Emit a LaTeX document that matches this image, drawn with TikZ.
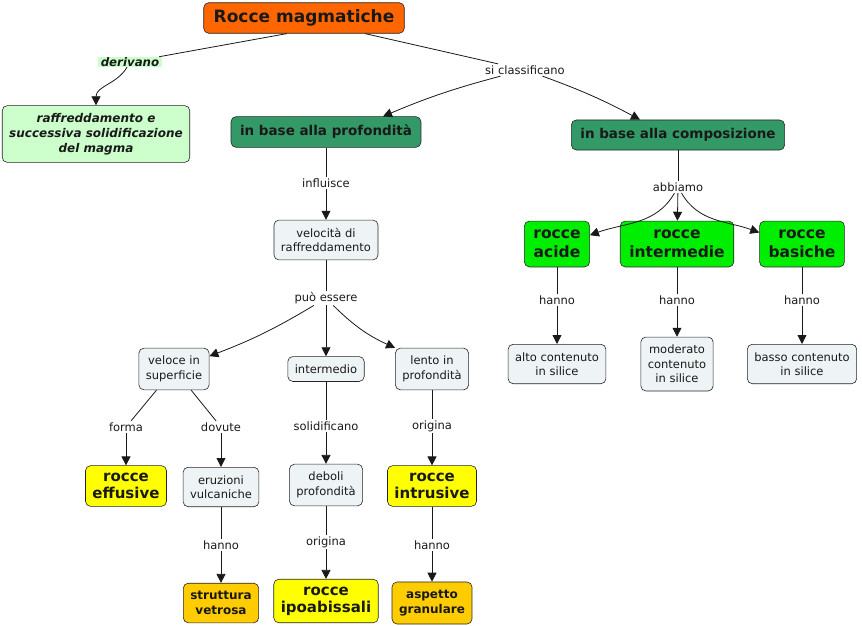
\documentclass[tikz,border=0pt]{standalone}
\usepackage{fontspec}
\setmainfont{DejaVu Sans}
\usepackage{tikz}
\usetikzlibrary{arrows.meta,positioning}

\definecolor{arancione}{RGB}{255,102,0}
\definecolor{verdechiaro}{RGB}{204,255,204}
\definecolor{verdescuro}{RGB}{51,153,102}
\definecolor{grigino}{RGB}{238,244,245}
\definecolor{giallo}{RGB}{255,255,0}
\definecolor{ocra}{RGB}{255,204,0}
\definecolor{verdeacceso}{RGB}{0,238,0}

\tikzset{
  concept/.style={draw=black!85, line width=0.6pt, rounded corners=5pt, align=center,
    inner xsep=7pt, inner ysep=8pt, fill=grigino, text=black!90,
    font=\fontsize{11.5}{14.5}\selectfont},
  titlebox/.style={concept, fill=arancione, inner xsep=10pt, inner ysep=7pt,
    font=\fontsize{17}{20}\bfseries},
  origine/.style={concept, fill=verdechiaro, inner ysep=7.5pt, font=\fontsize{12}{15}\bfseries\itshape},
  criterio/.style={concept, fill=verdescuro, inner xsep=9pt, inner ysep=8.5pt,
    font=\fontsize{13.5}{16}\bfseries},
  roccia/.style={concept, fill=giallo, inner ysep=7.5pt, font=\fontsize{15}{17}\bfseries},
  tipo/.style={concept, fill=verdeacceso, inner xsep=9pt, inner ysep=9pt, font=\fontsize{15.5}{19}\bfseries},
  aspetto/.style={concept, fill=ocra, inner ysep=8pt, font=\fontsize{12}{15}\bfseries},
  link/.style={inner sep=1.5pt, text=black!90, font=\fontsize{11.5}{14}\selectfont},
  linkbold/.style={link, fill=verdechiaro, inner xsep=3pt, inner ysep=0.5pt,
    font=\fontsize{11.8}{14}\bfseries\itshape},
  conn/.style={line width=0.8pt, black!90},
  arr/.style={-{Triangle[length=9pt,width=9pt]}},
}

\begin{document}
\begin{tikzpicture}[x=1pt, y=1pt, on grid]
  \useasboundingbox (0,0) rectangle (862,-626);

  % top of the map
  \node[titlebox] (title) at (304,-18) {Rocce magmatiche};
  \node[linkbold] (derivano) at (130,-62) {derivano};
  \node[origine] (raff) at (96,-134) {raffreddamento e\\successiva solidificazione\\del magma};
  \node[link] (sicl) at (525,-70) {si classificano};
  \node[criterio] (prof) at (326,-132) {in base alla profondità};
  \node[criterio] (comp) at (678,-135) {in base alla composizione};

  % left branch
  \node[link, below=51pt of prof] (influisce) {influisce};
  \node[concept, below=108pt of prof] (vel) {velocità di\\raffreddamento};
  \node[link, below=58pt of vel] (puo) {può essere};
  \node[concept, below=129pt of vel] (intermedio) {intermedio};
  \node[concept, left=152pt of intermedio] (veloce) {veloce in\\superficie};
  \node[concept, right=106pt of intermedio] (lento) {lento in\\profondità};

  \node[link, below left=58pt and 48pt of veloce] (forma) {forma};
  \node[link, below right=58pt and 47pt of veloce] (dovute) {dovute};
  \node[roccia, below=59pt of forma] (effusive) {rocce\\effusive};
  \node[concept, below=60pt of dovute] (eruzioni) {eruzioni\\vulcaniche};
  \node[link, below=58pt of eruzioni] (hannoA) {hanno};
  \node[aspetto, below=116pt of eruzioni] (vetrosa) {struttura\\vetrosa};

  \node[link, below=57pt of intermedio] (solidificano) {solidificano};
  \node[concept, below=116pt of intermedio] (deboli) {deboli\\profondità};
  \node[link, below=57pt of deboli] (originaB) {origina};
  \node[roccia, below=116pt of deboli] (ipoab) {rocce\\ipoabissali};

  \node[link, below=57pt of lento] (originaA) {origina};
  \node[roccia, below=117pt of lento] (intrusive) {rocce\\intrusive};
  \node[link, below=59pt of intrusive] (hannoB) {hanno};
  \node[aspetto, below=117pt of intrusive] (granulare) {aspetto\\granulare};

  % right branch
  \node[link, below=52pt of comp] (abbiamo) {abbiamo};
  \node[tipo, below=57pt of abbiamo, xshift=-1pt] (intermedie) {rocce\\intermedie};
  \node[tipo, left=120pt of intermedie] (acide) {rocce\\acide};
  \node[tipo, right=125pt of intermedie] (basiche) {rocce\\basiche};
  \node[link, below=56pt of acide] (hannoC) {hanno};
  \node[link, below=56pt of intermedie] (hannoD) {hanno};
  \node[link, below=56pt of basiche] (hannoE) {hanno};
  \node[concept, below=120pt of acide] (alto) {alto contenuto\\in silice};
  \node[concept, below=120pt of intermedie] (moderato) {moderato\\contenuto\\in silice};
  \node[concept, below=120pt of basiche] (basso) {basso contenuto\\in silice};

  % connectors
  \draw[conn] ([xshift=-17pt]title.south) -- (derivano);
  \draw[conn, arr] (derivano) to[out=-120, in=90] (raff.north);
  \draw[conn] ([xshift=61pt]title.south) -- (sicl);
  \draw[conn, arr] (sicl) to[bend right=4] ([xshift=57pt]prof.north);
  \draw[conn, arr] (sicl) to[bend left=4] ([xshift=-38pt]comp.north);

  \draw[conn] (prof) -- (influisce);
  \draw[conn, arr] (influisce) -- (vel);
  \draw[conn] (vel) -- (puo);
  \draw[conn, arr] (puo) to[bend left=5] (veloce.20);
  \draw[conn, arr] (puo) -- (intermedio);
  \draw[conn, arr] (puo) to[bend right=10] (lento.north west);

  \draw[conn] (veloce) -- (forma);
  \draw[conn, arr] (forma) -- (effusive);
  \draw[conn] (veloce) -- (dovute);
  \draw[conn, arr] (dovute) -- (eruzioni);
  \draw[conn] (eruzioni) -- (hannoA);
  \draw[conn, arr] (hannoA) -- (vetrosa);

  \draw[conn] (intermedio) -- (solidificano);
  \draw[conn, arr] (solidificano) -- (deboli);
  \draw[conn] (deboli) -- (originaB);
  \draw[conn, arr] (originaB) -- (ipoab);

  \draw[conn] (lento) -- (originaA);
  \draw[conn, arr] (originaA) -- (intrusive);
  \draw[conn] (intrusive) -- (hannoB);
  \draw[conn, arr] (hannoB) -- (granulare);

  \draw[conn] (comp) -- (abbiamo);
  \draw[conn, arr] (abbiamo) to[out=240, in=20] (acide.15);
  \draw[conn, arr] (abbiamo) -- (intermedie);
  \draw[conn, arr] (abbiamo) to[out=-60, in=160] (basiche.165);

  \draw[conn] (acide) -- (hannoC);
  \draw[conn, arr] (hannoC) -- (alto);
  \draw[conn] (intermedie) -- (hannoD);
  \draw[conn, arr] (hannoD) -- (moderato);
  \draw[conn] (basiche) -- (hannoE);
  \draw[conn, arr] (hannoE) -- (basso);
\end{tikzpicture}
\end{document}
